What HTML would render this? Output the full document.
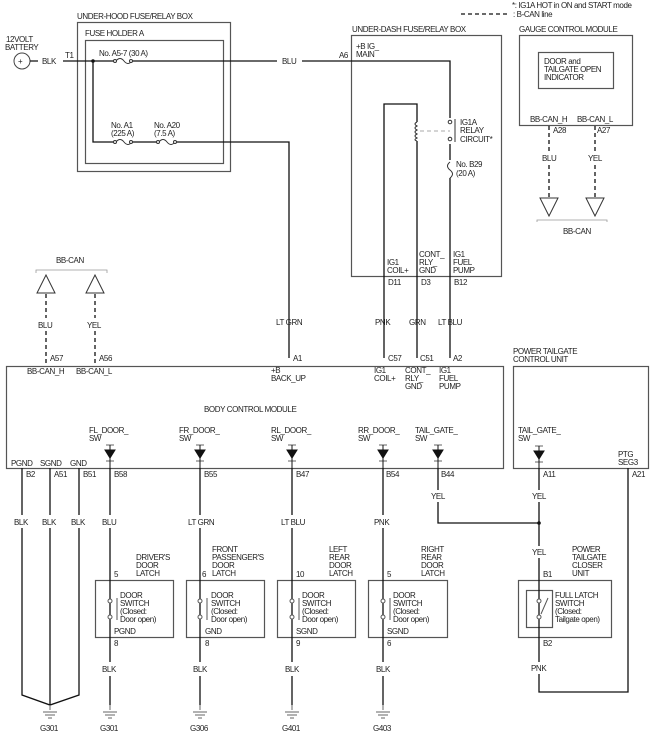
<!DOCTYPE html>
<html><head><style>
html,body{margin:0;padding:0;background:#fff;}
svg{display:block;}
text{font-family:"Liberation Sans",sans-serif;font-size:8px;fill:#222;letter-spacing:-0.4px;}
</style></head><body>
<svg width="655" height="753" viewBox="0 0 655 753" xmlns="http://www.w3.org/2000/svg">
<g fill="none" stroke="#555" stroke-width="1.2">
<rect x="77.5" y="22.5" width="153" height="149"/>
<rect x="85.5" y="40.5" width="138" height="123"/>
<rect x="351.5" y="35.5" width="150" height="241"/>
<rect x="519.5" y="35.5" width="113" height="90"/>
<rect x="538.5" y="52.5" width="75" height="36"/>
<rect x="6.5" y="366.5" width="497" height="102"/>
<rect x="513.5" y="366.5" width="135" height="102"/>
<rect x="95.5" y="580.5" width="78" height="57"/>
<rect x="186.5" y="580.5" width="78" height="57"/>
<rect x="277.5" y="580.5" width="78" height="57"/>
<rect x="368.5" y="580.5" width="79" height="57"/>
<rect x="518.5" y="580.5" width="93" height="57"/>
<rect x="526.5" y="590.5" width="26" height="37"/>
</g>
<g fill="none" stroke="#111" stroke-width="1.3">
<circle cx="22" cy="61" r="8" stroke="#444" stroke-width="1"/>
<path d="M30 61H38M63 61H114M132 61H277M302 61H450V118M450 144V160M450 178V358"/>
<path d="M93 61V142H114M132 142H157M176 142H289V358"/>
<path d="M384 358V104H417V122M417 141V358"/>
<path d="M22 468V515M22 528V695L50 705L79 695V528M79 515V468M50 468V515M50 528V705"/>
<path d="M110 468V515M110 528V662M110 676V705"/>
<path d="M200 468V515M200 528V662M200 676V705"/>
<path d="M292 468V515M292 528V662M292 676V705"/>
<path d="M383 468V515M383 528V662M383 676V705"/>
<path d="M438 468V490M438 502V523H539"/>
<path d="M539 468V490M539 502V546M539 558V662M539 674V692H628V468"/>
</g>
<circle cx="93" cy="61" r="1.8" fill="#111"/>
<circle cx="539" cy="523" r="1.8" fill="#111"/>
<g fill="none" stroke="#333" stroke-width="1">
<path d="M116 61q4-5 8 0t8 0M116 142q4-5 8 0t8 0M159 142q4-5 8 0t8 0M450 162q-5 4 0 8t0 8"/>
<circle cx="115" cy="61" r="1.5" fill="#fff"/><circle cx="131" cy="61" r="1.5" fill="#fff"/>
<circle cx="115" cy="142" r="1.5" fill="#fff"/><circle cx="131" cy="142" r="1.5" fill="#fff"/>
<circle cx="158" cy="142" r="1.5" fill="#fff"/><circle cx="175" cy="142" r="1.5" fill="#fff"/>
<circle cx="450" cy="122" r="1.8" fill="#fff"/><circle cx="450" cy="139" r="1.8" fill="#fff"/>
<path d="M455 119V142M417 122q-4 2 0 4q-4 2 0 4q-4 2 0 4q-4 2 0 4q-4 2 0 3"/>
<path d="M420 131H450" stroke="#aaa" stroke-dasharray="4 3"/>
</g>
<g stroke="#111" stroke-width="1.3" stroke-dasharray="4 3" fill="none">
<path d="M549 126V152M549 165V197M595 126V152M595 165V197M46 294V318M46 331V366M95 294V318M95 331V366"/>
<path d="M461 14H510"/>
</g>
<g fill="#fff" stroke="#333" stroke-width="1">
<path d="M540 198H558L549 216Z M586 198H604L595 216Z M37 293H55L46 275Z M86 293H104L95 275Z"/>
</g>
<g fill="none" stroke="#999" stroke-width="0.8">
<path d="M537 222V220H607V222M36 273V270H107V273"/>
</g>
<g stroke="#111" stroke-width="1" fill="#111">
<path d="M106 445H114M106 461H114M196 445H204M196 461H204M288 445H296M288 461H296M379 445H387M379 461H387M434 445H442M434 461H442M535 446H543M535 462H543" fill="none" stroke="#666"/>
<path d="M105 450H115L110 458Z M195 450H205L200 458Z M287 450H297L292 458Z M378 450H388L383 458Z M433 450H443L438 458Z M534 451H544L539 459Z"/>
<path d="M110 445V468M200 445V468M292 445V468M383 445V468M438 445V468M539 446V468" fill="none"/>
</g>
<g fill="#fff" stroke="#555" stroke-width="1">
<circle cx="110" cy="601" r="2"/><circle cx="110" cy="617" r="2"/><path d="M117 598V620"/>
<circle cx="200" cy="601" r="2"/><circle cx="200" cy="617" r="2"/><path d="M207 598V620"/>
<circle cx="292" cy="601" r="2"/><circle cx="292" cy="617" r="2"/><path d="M299 598V620"/>
<circle cx="383" cy="601" r="2"/><circle cx="383" cy="617" r="2"/><path d="M390 598V620"/>
<circle cx="539" cy="601" r="2"/><circle cx="539" cy="617" r="2"/><path d="M541 614L548 598"/>
</g>
<g stroke="#666" stroke-width="1" fill="none">
<path d="M43 712H57M45 715H55M48 718H52M50 705V710M103 712H117M105 715H115M108 718H112M110 705V710M193 712H207M195 715H205M198 718H202M200 705V710M285 712H299M287 715H297M290 718H294M292 705V710M376 712H390M378 715H388M381 718H385M383 705V710"/>
</g>
<text x="512" y="8">*: IG1A HOT in ON and START mode</text>
<text x="513" y="17">: B-CAN line</text>
<text x="77" y="19">UNDER-HOOD FUSE/RELAY BOX</text>
<text x="85" y="36">FUSE HOLDER A</text>
<text x="6" y="42">12VOLT</text><text x="5" y="50">BATTERY</text>
<text x="18" y="64" fill="#777">+</text>
<text x="42" y="64">BLK</text><text x="65" y="58">T1</text>
<text x="99" y="56">No. A5-7 (30 A)</text>
<text x="282" y="64">BLU</text>
<text x="111" y="128">No. A1</text><text x="111" y="136">(225 A)</text>
<text x="154" y="128">No. A20</text><text x="154" y="136">(7.5 A)</text>
<text x="352" y="32">UNDER-DASH FUSE/RELAY BOX</text>
<text x="356" y="49">+B IG_</text><text x="356" y="57">MAIN</text>
<text x="339" y="58">A6</text>
<text x="460" y="125">IG1A</text><text x="460" y="133">RELAY</text><text x="460" y="142">CIRCUIT*</text>
<text x="456" y="167">No. B29</text><text x="456" y="176">(20 A)</text>
<text x="387" y="265">IG1</text><text x="387" y="273">COIL+</text>
<text x="419" y="257">CONT_</text><text x="419" y="265">RLY_</text><text x="419" y="273">GND</text>
<text x="453" y="257">IG1</text><text x="453" y="265">FUEL</text><text x="453" y="273">PUMP</text>
<text x="388" y="285">D11</text><text x="421" y="285">D3</text><text x="454" y="285">B12</text>
<text x="519" y="32">GAUGE CONTROL MODULE</text>
<text x="544" y="64">DOOR and</text><text x="544" y="72">TAILGATE OPEN</text><text x="544" y="80">INDICATOR</text>
<text x="530" y="122">BB-CAN_H</text><text x="577" y="122">BB-CAN_L</text>
<text x="553" y="133">A28</text><text x="597" y="133">A27</text>
<text x="542" y="161">BLU</text><text x="588" y="161">YEL</text>
<text x="563" y="234">BB-CAN</text>
<text x="56" y="263">BB-CAN</text>
<text x="38" y="328">BLU</text><text x="87" y="328">YEL</text>
<text x="276" y="325">LT GRN</text>
<text x="375" y="325">PNK</text><text x="409" y="325">GRN</text><text x="438" y="325">LT BLU</text>
<text x="50" y="361">A57</text><text x="99" y="361">A56</text><text x="293" y="361">A1</text>
<text x="388" y="361">C57</text><text x="420" y="361">C51</text><text x="453" y="361">A2</text>
<text x="513" y="354">POWER TAILGATE</text><text x="513" y="362">CONTROL UNIT</text>
<text x="27" y="374">BB-CAN_H</text><text x="76" y="374">BB-CAN_L</text>
<text x="271" y="373">+B</text><text x="271" y="381">BACK_UP</text>
<text x="374" y="373">IG1</text><text x="374" y="381">COIL+</text>
<text x="405" y="373">CONT_</text><text x="405" y="381">RLY_</text><text x="405" y="389">GND</text>
<text x="439" y="373">IG1</text><text x="439" y="381">FUEL</text><text x="439" y="389">PUMP</text>
<text x="204" y="412">BODY CONTROL MODULE</text>
<text x="89" y="433">FL_DOOR_</text><text x="89" y="441">SW</text>
<text x="179" y="433">FR_DOOR_</text><text x="179" y="441">SW</text>
<text x="271" y="433">RL_DOOR_</text><text x="271" y="441">SW</text>
<text x="358" y="433">RR_DOOR_</text><text x="358" y="441">SW</text>
<text x="415" y="433">TAIL_GATE_</text><text x="415" y="441">SW</text>
<text x="518" y="433">TAIL_GATE_</text><text x="518" y="441">SW</text>
<text x="618" y="457">PTG</text><text x="618" y="465">SEG3</text>
<text x="11" y="466">PGND</text><text x="40" y="466">SGND</text><text x="70" y="466">GND</text>
<text x="26" y="477">B2</text><text x="54" y="477">A51</text><text x="83" y="477">B51</text>
<text x="114" y="477">B58</text><text x="204" y="477">B55</text><text x="296" y="477">B47</text>
<text x="386" y="477">B54</text><text x="441" y="477">B44</text>
<text x="543" y="477">A11</text><text x="632" y="477">A21</text>
<text x="431" y="499">YEL</text><text x="532" y="499">YEL</text>
<text x="14" y="525">BLK</text><text x="42" y="525">BLK</text><text x="71" y="525">BLK</text>
<text x="102" y="525">BLU</text><text x="188" y="525">LT GRN</text><text x="281" y="525">LT BLU</text>
<text x="374" y="525">PNK</text>
<text x="532" y="555">YEL</text>
<text x="136" y="560">DRIVER'S</text><text x="136" y="568">DOOR</text><text x="136" y="576">LATCH</text>
<text x="212" y="552">FRONT</text><text x="212" y="560">PASSENGER'S</text><text x="212" y="568">DOOR</text><text x="212" y="576">LATCH</text>
<text x="329" y="552">LEFT</text><text x="329" y="560">REAR</text><text x="329" y="568">DOOR</text><text x="329" y="576">LATCH</text>
<text x="421" y="552">RIGHT</text><text x="421" y="560">REAR</text><text x="421" y="568">DOOR</text><text x="421" y="576">LATCH</text>
<text x="572" y="552">POWER</text><text x="572" y="560">TAILGATE</text><text x="572" y="568">CLOSER</text><text x="572" y="576">UNIT</text>
<text x="114" y="577">5</text><text x="202" y="577">6</text><text x="296" y="577">10</text><text x="387" y="577">5</text><text x="543" y="577">B1</text>
<g>
<text x="120" y="598">DOOR</text><text x="120" y="606">SWITCH</text><text x="120" y="614">(Closed:</text><text x="120" y="622">Door open)</text>
<text x="211" y="598">DOOR</text><text x="211" y="606">SWITCH</text><text x="211" y="614">(Closed:</text><text x="211" y="622">Door open)</text>
<text x="302" y="598">DOOR</text><text x="302" y="606">SWITCH</text><text x="302" y="614">(Closed:</text><text x="302" y="622">Door open)</text>
<text x="393" y="598">DOOR</text><text x="393" y="606">SWITCH</text><text x="393" y="614">(Closed:</text><text x="393" y="622">Door open)</text>
<text x="555" y="598">FULL LATCH</text><text x="555" y="606">SWITCH</text><text x="555" y="614">(Closed:</text><text x="555" y="622">Tailgate open)</text>
</g>
<text x="114" y="634">PGND</text><text x="205" y="634">GND</text><text x="296" y="634">SGND</text><text x="387" y="634">SGND</text>
<text x="114" y="646">8</text><text x="205" y="646">8</text><text x="296" y="646">9</text><text x="387" y="646">6</text><text x="543" y="646">B2</text>
<text x="102" y="672">BLK</text><text x="193" y="672">BLK</text><text x="285" y="672">BLK</text><text x="376" y="672">BLK</text>
<text x="531" y="671">PNK</text>
<text x="40" y="731">G301</text><text x="100" y="731">G301</text><text x="190" y="731">G306</text><text x="282" y="731">G401</text><text x="373" y="731">G403</text>
</svg>
</body></html>
